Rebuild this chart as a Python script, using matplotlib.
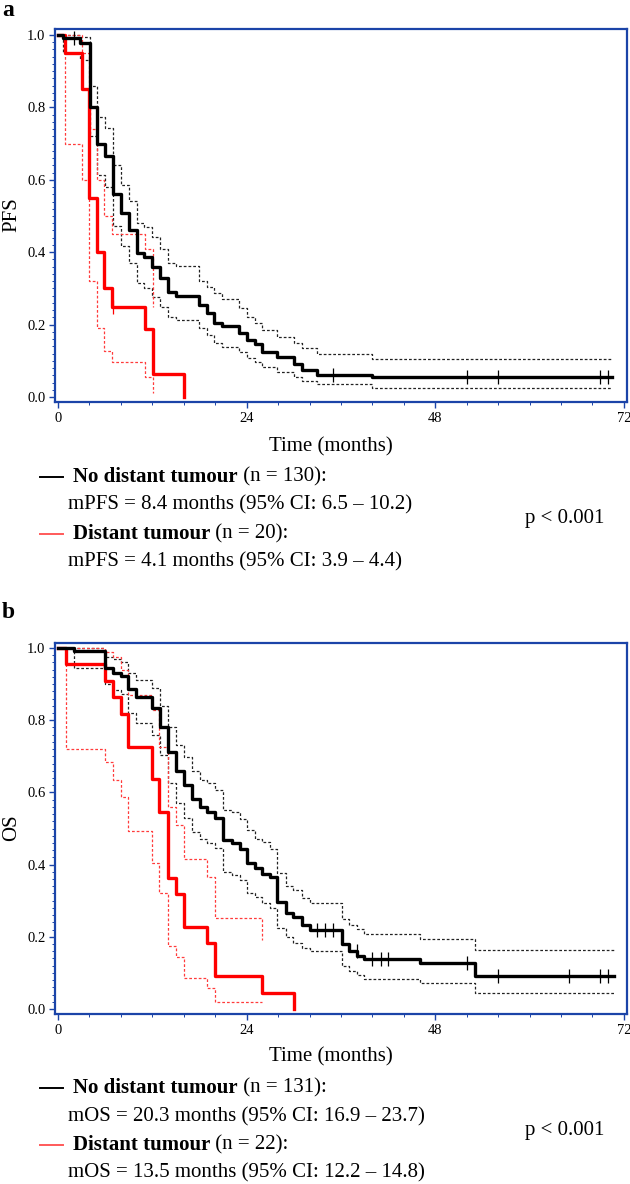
import numpy as np
import matplotlib
matplotlib.use('Agg')
import matplotlib.pyplot as plt
from matplotlib.lines import Line2D

plt.rcParams['font.family'] = ['Liberation Serif', 'DejaVu Serif']

# ---- panel a : PFS ----
a_black_t = [0, 0.6, 2.8, 4.1, 5.0, 6.0, 7.0, 8.0, 9.0, 10.0, 10.9, 11.9, 13.0, 14.0,
             15.0, 17.9, 18.9, 19.9, 20.9, 23.0, 24.0, 25.1, 26.0, 27.9, 30.0, 31.0, 33.0, 40.0]
a_black_s = [1.0, 0.992, 0.977, 0.800, 0.700, 0.667, 0.562, 0.508, 0.461, 0.398, 0.387, 0.360,
             0.329, 0.290, 0.280, 0.254, 0.232, 0.205, 0.196, 0.177, 0.157, 0.146, 0.125,
             0.110, 0.092, 0.075, 0.062, 0.055]
a_black_hi = [1.0, 1.0, 0.995, 0.860, 0.773, 0.742, 0.641, 0.586, 0.542, 0.481, 0.470, 0.442,
              0.409, 0.370, 0.362, 0.321, 0.305, 0.287, 0.270, 0.245, 0.221, 0.205, 0.185,
              0.166, 0.150, 0.135, 0.119, 0.105]
a_black_lo = [1.0, 0.950, 0.930, 0.720, 0.613, 0.580, 0.472, 0.417, 0.371, 0.315, 0.301, 0.277,
              0.249, 0.220, 0.212, 0.190, 0.170, 0.148, 0.139, 0.125, 0.108, 0.098, 0.082,
              0.070, 0.055, 0.045, 0.035, 0.025]
a_black_end = 70.5
a_black_cens = [2.0, 35.0, 52.0, 56.0, 69.0, 70.0]

a_red_t = [0, 0.9, 3.0, 4.0, 4.9, 5.9, 6.9, 11.1, 12.1, 16.0]
a_red_s = [1.0, 0.95, 0.85, 0.55, 0.40, 0.30, 0.25, 0.1875, 0.0625, 0.0]
a_red_end = 16.0
a_red_ci_t = [0, 0.9, 3.0, 4.0, 4.9, 5.9, 6.9, 11.1, 12.1]
a_red_hi = [1.0, 1.0, 0.95, 0.74, 0.60, 0.50, 0.45, 0.41, 0.25]
a_red_lo = [1.0, 0.70, 0.60, 0.32, 0.19, 0.127, 0.097, 0.056, 0.01]
a_red_ci_end = 12.1
a_red_cens = [7.0]

# ---- panel b : OS ----
b_black_t = [0, 2.0, 6.0, 7.0, 8.0, 8.9, 9.9, 12.0, 13.0, 14.0, 15.0, 16.0, 17.0, 18.1, 18.9,
             20.0, 21.0, 22.1, 23.1, 24.1, 25.1, 26.0, 27.0, 27.9, 29.0, 29.9, 31.0, 32.0,
             36.1, 37.0, 38.1, 38.9, 46.0, 53.0]
b_black_s = [1.0, 0.992, 0.944, 0.931, 0.922, 0.886, 0.864, 0.834, 0.782, 0.713, 0.658, 0.620,
             0.582, 0.560, 0.547, 0.529, 0.468, 0.459, 0.443, 0.404, 0.390, 0.374, 0.366,
             0.297, 0.267, 0.255, 0.233, 0.219, 0.180, 0.160, 0.147, 0.138, 0.127, 0.091]
b_black_hi = [1.0, 1.0, 0.975, 0.970, 0.961, 0.930, 0.911, 0.889, 0.839, 0.782, 0.731, 0.699,
              0.660, 0.634, 0.625, 0.607, 0.551, 0.545, 0.526, 0.496, 0.471, 0.462, 0.443,
              0.377, 0.341, 0.330, 0.307, 0.294, 0.250, 0.232, 0.222, 0.208, 0.194, 0.163]
b_black_lo = [1.0, 0.944, 0.900, 0.885, 0.872, 0.820, 0.792, 0.759, 0.704, 0.626, 0.571, 0.529,
              0.491, 0.471, 0.460, 0.445, 0.380, 0.372, 0.357, 0.322, 0.311, 0.294, 0.280,
              0.224, 0.199, 0.184, 0.169, 0.160, 0.119, 0.105, 0.095, 0.083, 0.073, 0.045]
b_black_end = 70.7
b_black_cens = [32.9, 34.0, 35.0, 38.0, 40.0, 41.1, 42.0, 52.0, 56.0, 65.0, 69.0, 70.0]

b_red_t = [0, 1.0, 6.0, 7.0, 8.0, 8.9, 11.9, 12.9, 14.0, 15.0, 16.0, 18.9, 20.0, 26.0, 30.0]
b_red_s = [1.0, 0.955, 0.909, 0.864, 0.818, 0.727, 0.636, 0.545, 0.364, 0.318, 0.227, 0.182,
           0.091, 0.045, 0.0]
b_red_end = 30.0
b_red_ci_t = [0, 1.0, 6.0, 7.0, 8.0, 8.9, 11.9, 12.9, 14.0, 15.0, 16.0, 18.9, 20.0, 26.0]
b_red_hi = [1.0, 1.0, 0.99, 0.976, 0.94, 0.87, 0.828, 0.727, 0.56, 0.51, 0.415, 0.365, 0.252, 0.19]
b_red_lo = [1.0, 0.72, 0.685, 0.634, 0.588, 0.493, 0.404, 0.322, 0.175, 0.143, 0.086, 0.058,
            0.018, 0.018]
b_red_ci_end = 26.0

BLUE = '#1b44a8'
RED = '#ff0000'
RED_CI = '#ff3b3b'
W, H = 630, 1184


def stairs(ax, t, s, end, **kw):
    t = list(t) + [end]
    s = list(s) + [s[-1]]
    ax.step(t, s, where='post', **kw)


def censor(ax, t, s, ct, color):
    idx = np.searchsorted(t, ct, side='right') - 1
    ax.plot(ct, np.array(s)[idx], ls='none', marker='|', ms=10, mew=0.9, color=color, zorder=5)


def style_axes(ax, ymin, ymax):
    ax.set_xlim(-0.38, 72.39)
    ax.set_ylim(ymin, ymax)
    ax.set_xticks([0, 24, 48, 72])
    ax.set_xticks(np.arange(0, 73, 4), minor=True)
    ax.set_yticks(np.arange(0, 1.01, 0.2))
    ax.set_yticks(np.arange(0, 1.001, 0.02), minor=True)
    ax.set_yticklabels(['%.1f' % v for v in np.arange(0, 1.01, 0.2)])
    for sp in ax.spines.values():
        sp.set_color(BLUE)
        sp.set_linewidth(1.6)
    ax.tick_params(which='major', direction='out', length=4, width=1.0, color=BLUE,
                   labelsize=10.5, labelcolor='black', pad=3)
    ax.tick_params(which='minor', direction='out', length=2, width=0.7, color=BLUE)


def fx(px):
    return px / W


def fy(py):
    return 1 - py / H


fig = plt.figure(figsize=(6.3, 11.84), dpi=100)
r = fig.canvas.get_renderer()

panels = [
    dict(top=29, bot=402, ylim=(-0.0138, 1.0166), letter='a', ylabel='PFS', ylab_y=215,
         bt=a_black_t, bs=a_black_s, bhi=a_black_hi, blo=a_black_lo, bend=a_black_end,
         bc=a_black_cens, rt=a_red_t, rs=a_red_s, rend=a_red_end, rct=a_red_ci_t,
         rhi=a_red_hi, rlo=a_red_lo, rcend=a_red_ci_end, rc=a_red_cens,
         letter_y=10, xlab_y=447, leg_y=[477, 505, 534, 562], p_y=519,
         lines=['No distant tumour', ' (n = 130):', 'mPFS = 8.4 months (95% CI: 6.5 \u2013 10.2)',
                'Distant tumour', ' (n = 20):', 'mPFS = 4.1 months (95% CI: 3.9 \u2013 4.4)']),
    dict(top=643, bot=1014, ylim=(-0.0139, 1.0139), letter='b', ylabel='OS', ylab_y=828,
         bt=b_black_t, bs=b_black_s, bhi=b_black_hi, blo=b_black_lo, bend=b_black_end,
         bc=b_black_cens, rt=b_red_t, rs=b_red_s, rend=b_red_end, rct=b_red_ci_t,
         rhi=b_red_hi, rlo=b_red_lo, rcend=b_red_ci_end, rc=[],
         letter_y=612, xlab_y=1057, leg_y=[1088, 1117, 1145, 1173], p_y=1130,
         lines=['No distant tumour', ' (n = 131):', 'mOS = 20.3 months (95% CI: 16.9 \u2013 23.7)',
                'Distant tumour', ' (n = 22):', 'mOS = 13.5 months (95% CI: 12.2 \u2013 14.8)']),
]

for p in panels:
    ax = fig.add_axes([fx(55), fy(p['bot']), fx(572), (p['bot'] - p['top']) / H])
    style_axes(ax, *p['ylim'])

    dash = dict(lw=0.9, ls=(0, (2.2, 1.6)))
    stairs(ax, p['bt'], p['bhi'], p['bend'], color='#222222', **dash)
    stairs(ax, p['bt'], p['blo'], p['bend'], color='#222222', **dash)
    stairs(ax, p['rct'], p['rhi'], p['rcend'], color=RED_CI, **dash)
    stairs(ax, p['rct'], p['rlo'], p['rcend'], color=RED_CI, **dash)
    stairs(ax, p['rt'], p['rs'], p['rend'], color=RED, lw=2.4, zorder=4)
    stairs(ax, p['bt'], p['bs'], p['bend'], color='black', lw=2.4, zorder=4)
    censor(ax, p['bt'], p['bs'], p['bc'], 'black')
    if p['rc']:
        censor(ax, p['rt'], p['rs'], p['rc'], RED)

    fig.text(fx(2), fy(p['letter_y']), p['letter'], fontsize=17, fontweight='bold',
             va='center', ha='left')
    fig.text(fx(12), fy(p['ylab_y']), p['ylabel'], fontsize=15, rotation=90,
             va='center', ha='center')
    fig.text(fx(331), fy(p['xlab_y']), 'Time (months)', fontsize=15, va='center', ha='center')

    ly = p['leg_y']
    L = p['lines']
    for k, (col, lw) in enumerate([('black', 1.4), ('#ff5a5a', 1.4)]):
        yy = fy(ly[2 * k])
        fig.add_artist(Line2D([fx(40), fx(63)], [yy, yy], color=col, lw=lw))
        t1 = fig.text(fx(73), yy, L[3 * k], fontsize=15, fontweight='bold', va='center', ha='left')
        bb = t1.get_window_extent(r)
        fig.text(bb.x1 / fig.bbox.width, yy, L[3 * k + 1], fontsize=15, va='center', ha='left')
        fig.text(fx(68), fy(ly[2 * k + 1]), L[3 * k + 2], fontsize=15, va='center', ha='left')
    fig.text(fx(525), fy(p['p_y']), 'p < 0.001', fontsize=15, va='center', ha='left')

fig.savefig('out.png', dpi=100)
